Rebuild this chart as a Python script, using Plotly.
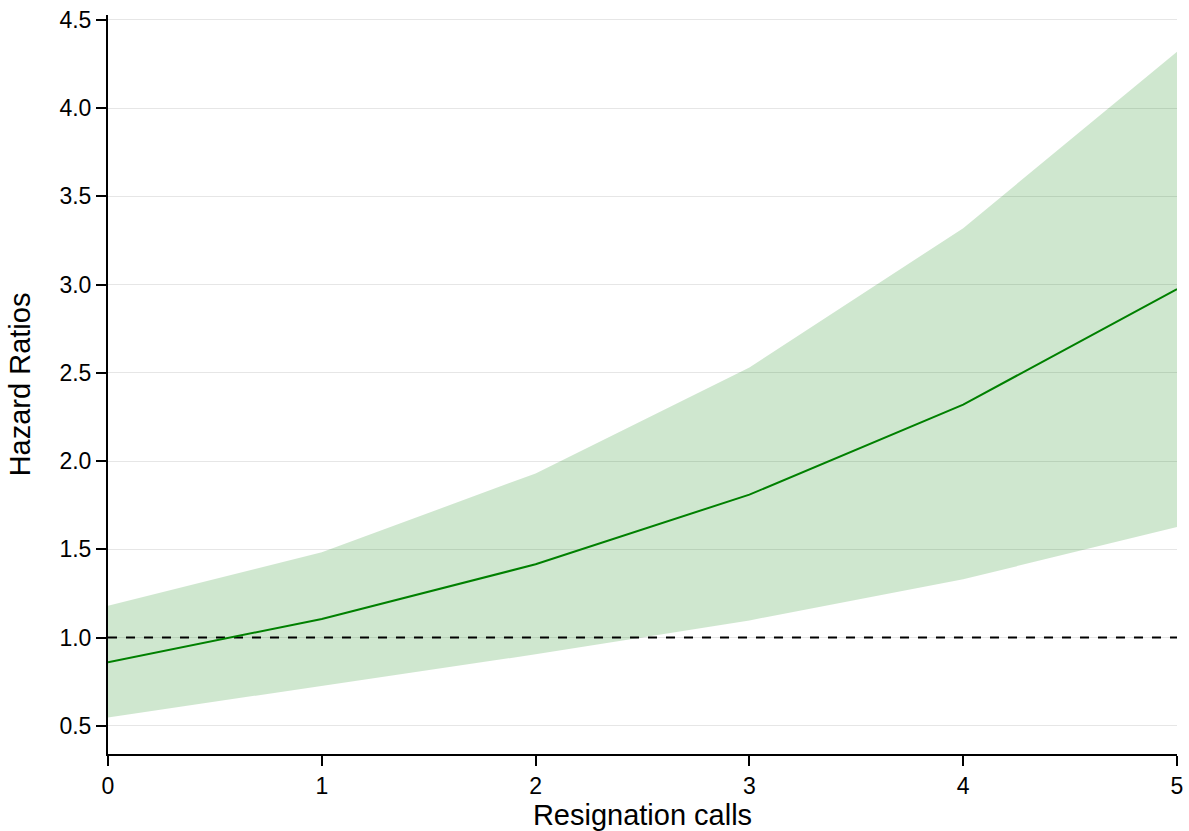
import plotly.graph_objects as go

# Hazard ratios by number of resignation calls, with confidence band
calls = [0, 1, 2, 3, 4, 5]
hazard_ratio = [0.86, 1.105, 1.415, 1.81, 2.32, 2.975]
ci_lower = [0.547, 0.727, 0.905, 1.097, 1.33, 1.627]
ci_upper = [1.18, 1.483, 1.93, 2.53, 3.32, 4.32]
reference_level = 1.0

y_ticks = [0.5, 1.0, 1.5, 2.0, 2.5, 3.0, 3.5, 4.0, 4.5]
x_ticks = [0, 1, 2, 3, 4, 5]

fig = go.Figure()

fig.add_trace(go.Scatter(
    x=calls, y=ci_upper, mode="lines", line=dict(width=0),
    showlegend=False, hoverinfo="skip",
))
fig.add_trace(go.Scatter(
    x=calls, y=ci_lower, mode="lines", line=dict(width=0),
    fill="tonexty", fillcolor="rgba(0,128,0,0.19)",
    showlegend=False, hoverinfo="skip",
))
fig.add_trace(go.Scatter(
    x=[calls[0], calls[-1]], y=[reference_level, reference_level],
    mode="lines", line=dict(color="black", width=2, dash="dash"),
    showlegend=False,
))
fig.add_trace(go.Scatter(
    x=calls, y=hazard_ratio, mode="lines",
    line=dict(color="#008000", width=2),
    showlegend=False,
))

tick_font = dict(family="Liberation Sans, Arial, sans-serif", size=23, color="black")
title_font = dict(family="Liberation Sans, Arial, sans-serif", size=29, color="black")

fig.update_layout(
    width=1189, height=831,
    margin=dict(l=108, r=12, t=15, b=77),
    plot_bgcolor="white", paper_bgcolor="white",
    font=tick_font,
)
fig.update_xaxes(
    range=[0, 5], tickvals=x_ticks, ticks="outside", ticklen=10, tickwidth=2,
    tickcolor="black", tickfont=tick_font, automargin=False,
    showline=True, linecolor="black", linewidth=2, showgrid=False, zeroline=False,
    title=dict(text="Resignation calls", font=title_font, standoff=12),
)
fig.update_yaxes(
    range=[0.34, 4.528], tickvals=y_ticks, tickformat=".1f",
    ticks="outside", ticklen=10, tickwidth=2, tickcolor="black",
    tickfont=tick_font, automargin=False,
    showline=True, linecolor="black", linewidth=2,
    showgrid=True, gridcolor="#e6e6e6", gridwidth=1, zeroline=False,
    title=dict(text="Hazard Ratios", font=title_font, standoff=20),
)

fig.write_html("out.html")
